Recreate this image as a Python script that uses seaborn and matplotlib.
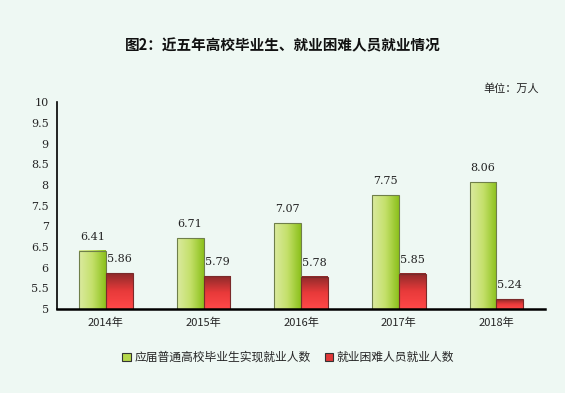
import numpy as np
import pandas as pd
import matplotlib
matplotlib.use("Agg")
import matplotlib.pyplot as plt
import seaborn as sns
from matplotlib.colors import LinearSegmentedColormap
from matplotlib.patches import Patch

# data
years = ["2014年", "2015年", "2016年", "2017年", "2018年"]
graduates = [6.41, 6.71, 7.07, 7.75, 8.06]
hardship = [5.86, 5.79, 5.78, 5.85, 5.24]
series_names = ["应届普通高校毕业生实现就业人数", "就业困难人员就业人数"]

df = pd.DataFrame({
    "year": years * 2,
    "value": graduates + hardship,
    "series": [series_names[0]] * 5 + [series_names[1]] * 5,
})

bg = "#eef8f3"
sns.set_style("white")
plt.rcParams["font.family"] = ["Noto Sans CJK SC", "DejaVu Sans"]

fig = plt.figure(figsize=(5.65, 3.93), dpi=100, facecolor=bg)
ax = fig.add_axes([0.101, 0.214, 0.864, 0.526], facecolor=bg)

sns.barplot(data=df, x="year", y="value", hue="series", order=years,
            hue_order=series_names, palette=["#b5d84a", "#e83c3c"],
            width=0.55, legend=False, ax=ax, edgecolor="none", saturation=1)

green_cmap = LinearSegmentedColormap.from_list("g", ["#dbeaa0", "#c4e06a", "#8cc11c"])
red_cmap = LinearSegmentedColormap.from_list("r", ["#ff4848", "#e83a3a", "#8e2a2a"])

ymin, ymax = 5, 10
values = graduates + hardship
patches = list(ax.patches)
for i, p in enumerate(patches):
    x0, w = p.get_x(), p.get_width()
    top = p.get_y() + p.get_height()
    if i < 5:
        grad = np.linspace(0, 1, 64).reshape(1, -1)
        cmap, ec = green_cmap, "#6f7f4a"
    else:
        grad = np.linspace(0, 1, 64).reshape(-1, 1)
        cmap, ec = red_cmap, "#7a2a2a"
    ax.imshow(grad, cmap=cmap, aspect="auto", extent=[x0, x0 + w, top, ymin],
              origin="upper", zorder=2, interpolation="bilinear")
    p.set_facecolor("none")
    p.set_edgecolor(ec)
    p.set_linewidth(0.8)
    p.set_zorder(3)
    ax.text(x0 + w / 2, top + 0.22, f"{values[i]:.2f}", ha="center", va="bottom",
            fontsize=8, color="#222222", family="DejaVu Serif")

ax.set_xlim(-0.5, 4.5)
ax.set_ylim(ymin, ymax)

# axes styling
for s in ["top", "right"]:
    ax.spines[s].set_visible(False)
ax.spines["left"].set_linewidth(1.2)
ax.spines["bottom"].set_linewidth(1.8)
ax.spines["left"].set_color("black")
ax.spines["bottom"].set_color("black")
ax.spines["bottom"].set_zorder(5)

yt = np.arange(5, 10.01, 0.5)
ax.set_yticks(yt)
ax.set_yticklabels([f"{v:g}" for v in yt], fontsize=8, family="DejaVu Serif")
ax.tick_params(axis="y", direction="in", length=4, width=1, pad=6)

ax.set_xticks([0.5, 1.5, 2.5, 3.5])
ax.set_xticklabels([])
ax.tick_params(axis="x", which="major", direction="in", length=4, width=1.2)
ax.set_xticks(range(5), minor=True)
ax.set_xticklabels(years, minor=True, fontsize=8)
ax.tick_params(axis="x", which="minor", length=0, pad=6)
ax.set_xlabel("")
ax.set_ylabel("")

fig.text(0.5, 0.885, "图2：近五年高校毕业生、就业困难人员就业情况", ha="center", va="center",
         fontsize=10.5, fontweight="bold", color="#111111")
fig.text(0.905, 0.776, "单位：万人", ha="center", va="center", fontsize=8, color="#222222")

handles = [Patch(facecolor="#b5d84a", edgecolor="#333333", linewidth=0.8),
           Patch(facecolor="#e03838", edgecolor="#333333", linewidth=0.8)]
fig.legend(handles, series_names, loc="center", bbox_to_anchor=(0.51, 0.09), ncol=2,
           frameon=False, fontsize=8.5, handlelength=0.7, handleheight=0.7,
           handletextpad=0.3, columnspacing=1.2)

fig.savefig("out.png", dpi=100, facecolor=bg)
